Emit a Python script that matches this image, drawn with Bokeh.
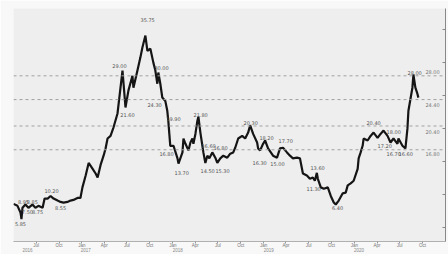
import pandas as pd
from bokeh.plotting import figure
from bokeh.models import (Range1d, DatetimeAxis, LinearAxis, FixedTicker,
                          DatetimeTickFormatter, Span, ColumnDataSource)
from bokeh.core.properties import value
from bokeh.embed import file_html
from bokeh.resources import INLINE

# ---- price series ----
dates = [
    "2016-04-01", "2016-04-17", "2016-04-29", "2016-05-03", "2016-05-07", "2016-05-19", "2016-05-31",
    "2016-06-16", "2016-06-28", "2016-07-10", "2016-07-27", "2016-08-04", "2016-08-16", "2016-08-28",
    "2016-09-09", "2016-09-25", "2016-10-07", "2016-10-19", "2016-11-04", "2016-11-16", "2016-11-28",
    "2016-12-14", "2016-12-26", "2017-01-03", "2017-01-16", "2017-01-28", "2017-02-13", "2017-02-25",
    "2017-03-05", "2017-03-17", "2017-03-29", "2017-04-06", "2017-04-14", "2017-04-26", "2017-05-08",
    "2017-05-24", "2017-06-05", "2017-06-13", "2017-06-25", "2017-07-07", "2017-07-23", "2017-07-27",
    "2017-08-12", "2017-08-24", "2017-09-01", "2017-09-13", "2017-09-21", "2017-10-03", "2017-10-15",
    "2017-10-23", "2017-10-31", "2017-11-04", "2017-11-12", "2017-11-20", "2017-12-02", "2017-12-10",
    "2017-12-14", "2017-12-22", "2018-01-04", "2018-01-20", "2018-01-24", "2018-02-09", "2018-02-13",
    "2018-02-21", "2018-03-05", "2018-03-13", "2018-03-21", "2018-03-25", "2018-04-02", "2018-04-10",
    "2018-04-14", "2018-04-22", "2018-05-04", "2018-05-12", "2018-05-20", "2018-05-28", "2018-06-09",
    "2018-06-21", "2018-06-29", "2018-07-11", "2018-07-23", "2018-08-08", "2018-08-20", "2018-09-01",
    "2018-09-09", "2018-09-21", "2018-10-07", "2018-10-19", "2018-10-31", "2018-11-08", "2018-11-20",
    "2018-12-06", "2018-12-10", "2018-12-18", "2018-12-30", "2019-01-07", "2019-01-19", "2019-02-08",
    "2019-02-24", "2019-03-08", "2019-03-20", "2019-04-05", "2019-04-17", "2019-04-29", "2019-05-15",
    "2019-05-27", "2019-06-08", "2019-06-24", "2019-07-06", "2019-07-18", "2019-07-26", "2019-08-03",
    "2019-08-07", "2019-08-19", "2019-08-31", "2019-09-16", "2019-09-28", "2019-10-10", "2019-10-18",
    "2019-10-30", "2019-11-15", "2019-11-27", "2019-12-05", "2019-12-17", "2019-12-29", "2020-01-14",
    "2020-01-18", "2020-01-26", "2020-02-03", "2020-02-07", "2020-02-23", "2020-03-06", "2020-03-18",
    "2020-04-03", "2020-04-15", "2020-04-27", "2020-05-13", "2020-05-25", "2020-06-06", "2020-06-22",
    "2020-06-26", "2020-07-12", "2020-07-24", "2020-08-01", "2020-08-05", "2020-08-21", "2020-08-25",
    "2020-09-02", "2020-09-10", "2020-09-14",
]
prices = [
    8.6, 8.3, 7.3, 6.3, 8.0, 8.5, 8.0,
    8.5, 8.0, 8.3, 8.0, 9.4, 9.4, 9.8,
    9.4, 9.1, 8.9, 8.8, 8.9, 9.1, 9.2,
    9.5, 9.5, 11.1, 12.9, 14.8, 13.9, 13.2,
    12.6, 14.5, 15.9, 17.0, 18.5, 18.9, 20.2,
    22.3, 26.2, 28.8, 23.2, 25.8, 28.0, 26.2,
    28.8, 30.8, 32.3, 34.1, 31.8, 32.1, 30.0,
    28.8, 26.8, 28.5, 26.8, 24.7, 24.2, 22.7,
    21.2, 17.4, 17.4, 15.5, 14.7, 16.4, 18.5,
    17.7, 16.7, 17.9, 18.5, 17.7, 19.2, 21.2,
    21.8, 19.4, 16.4, 14.8, 15.9, 15.5, 16.4,
    15.6, 14.8, 15.5, 15.9, 15.6, 16.2, 16.4,
    17.1, 18.5, 18.9, 18.5, 19.4, 20.5, 19.2,
    17.9, 17.0, 16.7, 17.7, 18.2, 17.0, 15.9,
    15.6, 17.0, 17.1, 16.4, 15.9, 15.5, 15.6,
    15.5, 13.2, 12.9, 12.4, 12.6, 12.1, 13.3,
    12.4, 11.1, 10.9, 11.1, 9.8, 8.8, 8.5,
    9.1, 10.2, 10.3, 11.4, 11.7, 12.1, 13.9,
    15.5, 16.4, 17.4, 18.5, 18.2, 18.9, 19.4,
    18.6, 19.2, 19.7, 18.9, 17.9, 18.5, 17.7,
    18.5, 17.4, 17.0, 20.0, 22.7, 26.2, 28.2,
    26.2, 25.3, 24.7,
]

# ---- point annotations (text placed in data space) ----
note_texts = ["5.85", "8.95", "8.85", "7.50", "8.75", "10.20", "8.55",
              "21.60", "29.00", "35.75", "30.00", "24.30", "19.90", "16.80", "13.70",
              "21.80", "16.60", "16.80", "14.50", "15.30",
              "20.30", "16.30", "18.20", "15.00", "17.70",
              "13.60", "11.30", "6.40",
              "20.40", "18.00", "17.20", "16.70", "16.60", "28.00"]
note_dates = ["2016-04-29", "2016-05-11", "2016-06-16", "2016-05-27", "2016-07-07", "2016-09-01", "2016-10-07",
              "2017-07-03", "2017-06-01", "2017-09-22", "2017-11-17", "2017-10-20", "2018-01-04", "2017-12-07", "2018-02-06",
              "2018-04-23", "2018-05-25", "2018-07-12", "2018-05-21", "2018-07-20",
              "2018-11-10", "2018-12-16", "2019-01-13", "2019-02-26", "2019-03-31",
              "2019-08-06", "2019-07-21", "2019-10-25",
              "2020-03-18", "2020-06-07", "2020-05-02", "2020-06-07", "2020-07-25", "2020-08-30"]
note_levels = [5.6, 8.9, 8.9, 7.3, 7.3, 10.6, 7.9,
               22.0, 29.5, 36.4, 29.2, 23.6, 21.5, 16.2, 13.3,
               22.1, 17.3, 17.1, 13.6, 13.6,
               20.9, 14.8, 18.6, 14.7, 18.2,
               14.1, 10.9, 7.9,
               20.9, 19.5, 17.4, 16.2, 16.2, 28.5]

# ---- reference levels ----
ref_levels = [28.0, 24.4, 20.4, 16.8]
ref_texts = ["28.00", "24.40", "20.40", "16.80"]
ref_text_levels = [28.6, 23.6, 19.5, 16.1]
ref_text_date = "2020-11-10"

# ---- axis ticks ----
month_ticks = ["2016-07-01", "2016-10-01", "2017-01-01", "2017-04-01", "2017-07-01", "2017-10-01",
               "2018-01-01", "2018-04-01", "2018-07-01", "2018-10-01", "2019-01-01", "2019-04-01",
               "2019-07-01", "2019-10-01", "2020-01-01", "2020-04-01", "2020-07-01", "2020-10-01"]
year_ticks = ["2016-05-27", "2017-01-16", "2018-01-21", "2019-01-22", "2020-01-19"]
right_ticks = [5, 10, 15, 20, 25, 30, 35]

def ms(s):
    return pd.Timestamp(s).value / 1e6

x_start, x_end = pd.Timestamp("2016-04-01"), pd.Timestamp("2021-01-01")

p = figure(width=448, height=254, x_axis_type=None, y_axis_type=None,
           x_range=Range1d(x_start, x_end), y_range=Range1d(2.9, 38.2),
           output_backend="svg", toolbar_location=None,
           min_border_left=13, min_border_right=3, min_border_top=8, min_border_bottom=13)
p.background_fill_color = "#eeeeee"
p.border_fill_color = "#f8f8f8"
p.outline_line_color = None
p.grid.visible = False

for lv in ref_levels:
    p.add_layout(Span(location=lv, dimension="width", line_color="#a0a0a0",
                      line_dash="3 3", line_width=1))

src = ColumnDataSource(dict(x=pd.to_datetime(dates), y=prices))
p.line("x", "y", source=src, line_color="#151515", line_width=2.2)

nsrc = ColumnDataSource(dict(x=pd.to_datetime(note_dates), y=note_levels, t=note_texts))
p.text("x", "y", text="t", source=nsrc, text_font=value("DejaVu Sans"),
       text_font_size="5px", text_color="#555555", text_align="center",
       text_baseline="middle")

rsrc = ColumnDataSource(dict(x=pd.to_datetime([ref_text_date] * len(ref_texts)),
                             y=ref_text_levels, t=ref_texts))
p.text("x", "y", text="t", source=rsrc, text_font=value("DejaVu Sans"),
       text_font_size="5px", text_color="#777777", text_align="center",
       text_baseline="middle")

fmt_m = DatetimeTickFormatter(days="%b", months="%b", years="%b")
ax_m = DatetimeAxis(ticker=FixedTicker(ticks=[ms(t) for t in month_ticks]), formatter=fmt_m)
ax_m.major_tick_out = 2
ax_m.major_tick_in = 0
ax_m.minor_tick_out = 0
ax_m.minor_tick_in = 0
ax_m.major_label_standoff = -1
ax_m.major_label_text_font_size = "4.5px"
ax_m.major_label_text_color = "#777777"
ax_m.axis_line_color = "#b0b0b0"
ax_m.major_tick_line_color = "#999999"
p.add_layout(ax_m, "below")

fmt_y = DatetimeTickFormatter(days="%Y", months="%Y", years="%Y")
ax_y = DatetimeAxis(ticker=FixedTicker(ticks=[ms(t) for t in year_ticks]), formatter=fmt_y)
ax_y.major_tick_out = 0
ax_y.major_tick_in = 0
ax_y.minor_tick_out = 0
ax_y.minor_tick_in = 0
ax_y.major_label_standoff = -3
ax_y.major_label_text_font_size = "4.5px"
ax_y.major_label_text_color = "#888888"
ax_y.axis_line_color = None
p.add_layout(ax_y, "below")

ax_r = LinearAxis(ticker=FixedTicker(ticks=right_ticks),
                  major_label_overrides={t: "" for t in right_ticks})
ax_r.major_tick_in = 3
ax_r.major_tick_out = 0
ax_r.minor_tick_out = 0
ax_r.minor_tick_in = 0
ax_r.major_label_standoff = 0
ax_r.axis_line_color = "#888888"
ax_r.major_tick_line_color = "#888888"
p.add_layout(ax_r, "right")

open("out.html", "w").write(file_html(p, INLINE))
